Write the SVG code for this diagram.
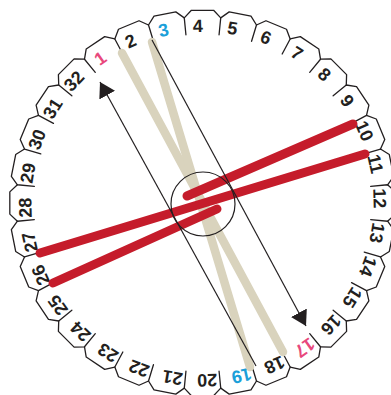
<svg xmlns="http://www.w3.org/2000/svg" xmlns:xlink="http://www.w3.org/1999/xlink" width="391" height="395" viewBox="0 0 391 395">
<style>
.tab{fill:none;stroke:#231f20;stroke-width:1.3;stroke-linejoin:round;stroke-linecap:round}
.lbl{font-family:"Liberation Sans",Arial,sans-serif;font-weight:bold;font-size:18px;fill:#231f20;text-anchor:middle;dominant-baseline:central}
.pink{fill:#e8487c}
.blue{fill:#1b9fd9}
.beige{stroke:#d9d3bd;stroke-width:8.5;stroke-linecap:round;fill:none}
.red{stroke:#c51c2b;stroke-width:9;stroke-linecap:round;fill:none}
.thin{stroke:#231f20;stroke-width:1.2;fill:none}
</style>
<defs>
<path id="tabshape" d="M-16.57,-168.19 L-18.23,-185.10 L-11.11,-192.68 L11.11,-192.68 L18.23,-185.10"/>
<marker id="arrow" viewBox="0 0 15 18" refX="15" refY="9" markerWidth="15" markerHeight="18" markerUnits="userSpaceOnUse" orient="auto">
<path d="M0,0 L15,9 L0,18 z" fill="#231f20"/>
</marker>
</defs>
<rect width="391" height="395" fill="#ffffff"/>
<g transform="translate(202.5,203)">
<g id="tab1" transform="rotate(-33.75)"><use xlink:href="#tabshape" class="tab"/><text class="lbl pink" transform="rotate(-1.5)" y="-177">1</text></g>
<g id="tab2" transform="rotate(-22.5)"><use xlink:href="#tabshape" class="tab"/><text class="lbl" transform="rotate(-1.5)" y="-177">2</text></g>
<g id="tab3" transform="rotate(-11.25)"><use xlink:href="#tabshape" class="tab"/><text class="lbl blue" transform="rotate(-1.5)" y="-177">3</text></g>
<g id="tab4" transform="rotate(0)"><use xlink:href="#tabshape" class="tab"/><text class="lbl" transform="rotate(-1.5)" y="-177">4</text></g>
<g id="tab5" transform="rotate(11.25)"><use xlink:href="#tabshape" class="tab"/><text class="lbl" transform="rotate(-1.5)" y="-177">5</text></g>
<g id="tab6" transform="rotate(22.5)"><use xlink:href="#tabshape" class="tab"/><text class="lbl" transform="rotate(-1.5)" y="-177">6</text></g>
<g id="tab7" transform="rotate(33.75)"><use xlink:href="#tabshape" class="tab"/><text class="lbl" transform="rotate(-1.5)" y="-177">7</text></g>
<g id="tab8" transform="rotate(45)"><use xlink:href="#tabshape" class="tab"/><text class="lbl" transform="rotate(-1.5)" y="-177">8</text></g>
<g id="tab9" transform="rotate(56.25)"><use xlink:href="#tabshape" class="tab"/><text class="lbl" transform="rotate(-1.5)" y="-177">9</text></g>
<g id="tab10" transform="rotate(67.5)"><use xlink:href="#tabshape" class="tab"/><text class="lbl" transform="rotate(-1.5)" y="-177">10</text></g>
<g id="tab11" transform="rotate(78.75)"><use xlink:href="#tabshape" class="tab"/><text class="lbl" transform="rotate(-1.5)" y="-177">11</text></g>
<g id="tab12" transform="rotate(90)"><use xlink:href="#tabshape" class="tab"/><text class="lbl" transform="rotate(-1.5)" y="-177">12</text></g>
<g id="tab13" transform="rotate(101.25)"><use xlink:href="#tabshape" class="tab"/><text class="lbl" transform="rotate(-1.5)" y="-177">13</text></g>
<g id="tab14" transform="rotate(112.5)"><use xlink:href="#tabshape" class="tab"/><text class="lbl" transform="rotate(-1.5)" y="-177">14</text></g>
<g id="tab15" transform="rotate(123.75)"><use xlink:href="#tabshape" class="tab"/><text class="lbl" transform="rotate(-1.5)" y="-177">15</text></g>
<g id="tab16" transform="rotate(135)"><use xlink:href="#tabshape" class="tab"/><text class="lbl" transform="rotate(-1.5)" y="-177">16</text></g>
<g id="tab17" transform="rotate(146.25)"><use xlink:href="#tabshape" class="tab"/><text class="lbl pink" transform="rotate(-1.5)" y="-177">17</text></g>
<g id="tab18" transform="rotate(157.5)"><use xlink:href="#tabshape" class="tab"/><text class="lbl" transform="rotate(-1.5)" y="-177">18</text></g>
<g id="tab19" transform="rotate(168.75)"><use xlink:href="#tabshape" class="tab"/><text class="lbl blue" transform="rotate(-1.5)" y="-177">19</text></g>
<g id="tab20" transform="rotate(180)"><use xlink:href="#tabshape" class="tab"/><text class="lbl" transform="rotate(-1.5)" y="-177">20</text></g>
<g id="tab21" transform="rotate(191.25)"><use xlink:href="#tabshape" class="tab"/><text class="lbl" transform="rotate(-1.5)" y="-177">21</text></g>
<g id="tab22" transform="rotate(202.5)"><use xlink:href="#tabshape" class="tab"/><text class="lbl" transform="rotate(-1.5)" y="-177">22</text></g>
<g id="tab23" transform="rotate(213.75)"><use xlink:href="#tabshape" class="tab"/><text class="lbl" transform="rotate(-1.5)" y="-177">23</text></g>
<g id="tab24" transform="rotate(225)"><use xlink:href="#tabshape" class="tab"/><text class="lbl" transform="rotate(-1.5)" y="-177">24</text></g>
<g id="tab25" transform="rotate(236.25)"><use xlink:href="#tabshape" class="tab"/><text class="lbl" transform="rotate(-1.5)" y="-177">25</text></g>
<g id="tab26" transform="rotate(247.5)"><use xlink:href="#tabshape" class="tab"/><text class="lbl" transform="rotate(-1.5)" y="-177">26</text></g>
<g id="tab27" transform="rotate(258.75)"><use xlink:href="#tabshape" class="tab"/><text class="lbl" transform="rotate(-1.5)" y="-177">27</text></g>
<g id="tab28" transform="rotate(270)"><use xlink:href="#tabshape" class="tab"/><text class="lbl" transform="rotate(-1.5)" y="-177">28</text></g>
<g id="tab29" transform="rotate(281.25)"><use xlink:href="#tabshape" class="tab"/><text class="lbl" transform="rotate(-1.5)" y="-177">29</text></g>
<g id="tab30" transform="rotate(292.5)"><use xlink:href="#tabshape" class="tab"/><text class="lbl" transform="rotate(-1.5)" y="-177">30</text></g>
<g id="tab31" transform="rotate(303.75)"><use xlink:href="#tabshape" class="tab"/><text class="lbl" transform="rotate(-1.5)" y="-177">31</text></g>
<g id="tab32" transform="rotate(315)"><use xlink:href="#tabshape" class="tab"/><text class="lbl" transform="rotate(-1.5)" y="-177">32</text></g>
</g>
<g id="connectors">
<line class="beige" x1="122" y1="53" x2="283" y2="352"/>
<line class="beige" x1="152" y1="42" x2="250" y2="367"/>
<line class="red" x1="365" y1="154" x2="40" y2="253"/>
<line class="red" x1="353" y1="124" x2="187" y2="196"/>
<line class="red" x1="217" y1="209" x2="53" y2="283"/>
<circle class="thin" cx="203" cy="204" r="32"/>
<line class="thin" x1="256" y1="366" x2="100" y2="82" marker-end="url(#arrow)"/>
<line class="thin" x1="152" y1="40" x2="306" y2="326" marker-end="url(#arrow)"/>
</g>
</svg>
